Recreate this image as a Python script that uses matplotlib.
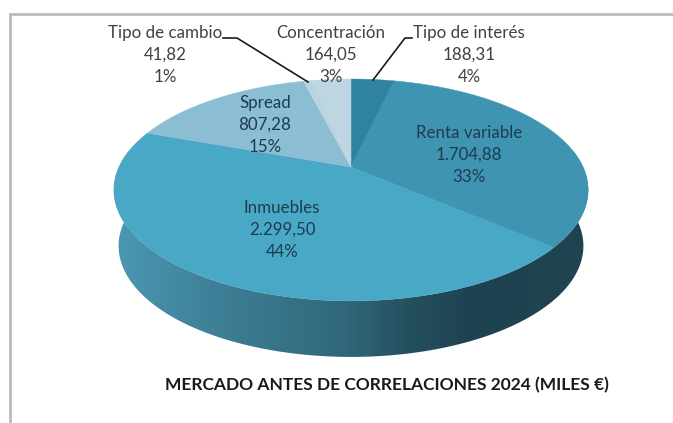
import numpy as np
import matplotlib
matplotlib.use("Agg")
import matplotlib.pyplot as plt
from matplotlib.colors import LinearSegmentedColormap
from matplotlib.patches import Polygon

# Chart data, clockwise from twelve o'clock
categories = ["Tipo de interés", "Renta variable", "Inmuebles", "Spread", "Tipo de cambio", "Concentración"]
values = [188.31, 1704.88, 2299.50, 807.28, 41.82, 164.05]
value_labels = ["188,31", "1.704,88", "2.299,50", "807,28", "41,82", "164,05"]
percent_labels = ["4%", "33%", "44%", "15%", "1%", "3%"]
title = "MERCADO ANTES DE CORRELACIONES 2024 (MILES €)"

# Styles
slice_colors = ["#2f83a0", "#3f95b1", "#49a8c6", "#8bbdd3", "#b9d3e0", "#bdd6e2"]
label_pos = [(469, 33), (469, 133), (282, 208), (265, 103), (165, 33), (331, 33)]
label_colors = ["#404040", "#1d3c50", "#1d3c50", "#1d3c50", "#404040", "#404040"]
wall_stops = [(0.0, "#4b98b3"), (0.2, "#3e8198"), (0.48, "#30687a"), (0.62, "#25505f"),
              (0.75, "#1f4251"), (1.0, "#1f4452")]

# Perspective of the pie plane, in pixels
apex_x, apex_y = 351, 167
scale_x, scale_y, persp = 232, 106.2, 0.207
depth = 56
wall_shrink = 0.98


def project(theta):
    # theta in radians, clockwise from the top
    den = 1 + persp * np.cos(theta)
    return apex_x + scale_x * np.sin(theta) / den, apex_y - scale_y * np.cos(theta) / den


fig = plt.figure(figsize=(6.73, 4.23), dpi=100)
ax = fig.add_axes([0, 0, 1, 1])
ax.axis("off")

# Frame of the pasted picture
ax.plot([10, 10, 673], [423, 14, 14], color="#bbbbbb", linewidth=2, solid_joinstyle="miter")

# Side wall with a horizontal gradient
theta = np.radians(np.linspace(77, 283, 300))
rim_x, rim_y = project(theta)
low_x = apex_x + (rim_x - apex_x) * wall_shrink
low_y = rim_y + depth
wall = Polygon(np.r_[np.c_[rim_x, rim_y], np.c_[low_x, low_y][::-1]], closed=True,
               facecolor="none", edgecolor="none")
ax.add_patch(wall)
cmap = LinearSegmentedColormap.from_list("wall", wall_stops)
img = ax.imshow(np.linspace(0, 1, 256)[None, :], cmap=cmap, aspect="auto",
                extent=(114, 590, 360, 150), zorder=1)
img.set_clip_path(wall)
ax.set_xlim(0, 673)
ax.set_ylim(423, 0)

# Top face
edges = np.r_[0, np.cumsum(values)] / np.sum(values) * 2 * np.pi
for start, end, color in zip(edges[:-1], edges[1:], slice_colors):
    t = np.linspace(start, end, 120)
    x, y = project(t)
    ax.fill(np.r_[apex_x, x], np.r_[apex_y, y], color=color, linewidth=0.3, zorder=2)

# Labels
for name, val, pct, (x, y), color in zip(categories, value_labels, percent_labels, label_pos, label_colors):
    for i, line in enumerate([name, val, pct]):
        ax.text(x, y + i * 22, line, ha="center", va="center", fontsize=12.2, family="Lato",
                color=color, zorder=4)

# Leader lines
ax.plot([223, 237, 308], [38, 38, 82], color="#1a1a1a", linewidth=1.2, zorder=3)
ax.plot([412, 405, 373], [38, 38, 80], color="#1a1a1a", linewidth=1.2, zorder=3)

ax.text(387, 385, title, ha="center", va="center", fontsize=12.5, family="Lato",
        fontweight="bold", color="#1a1a1a", zorder=4)

fig.savefig("out.png", dpi=100)
